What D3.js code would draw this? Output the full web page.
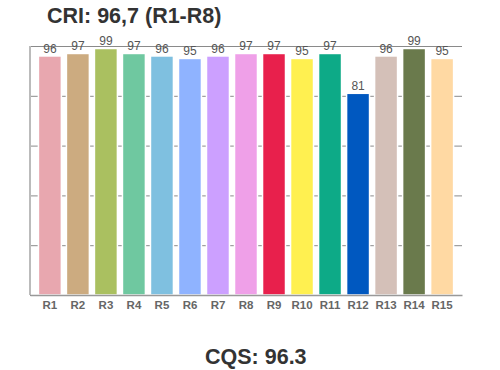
<!DOCTYPE html>
<html>
<head>
<meta charset="utf-8">
<script src="https://cdn.jsdelivr.net/npm/d3@7"></script>
<style>
    body { margin: 0; background: #fff; }
    svg { display: block; font-family: 'Liberation Sans', Arial, sans-serif; }
</style>
</head>
<body>
<div class="chart"></div>
<script>
// chart data
const samples = ['R1', 'R2', 'R3', 'R4', 'R5', 'R6', 'R7', 'R8', 'R9', 'R10', 'R11', 'R12', 'R13', 'R14', 'R15'];
const values = [96, 97, 99, 97, 96, 95, 96, 97, 97, 95, 97, 81, 96, 99, 95];
const colors = ['#e8a7af', '#ccab80', '#aac060', '#6fc8a0', '#7fc0e0', '#8fb3ff', '#cca0ff', '#efa0e8',
    '#e8204c', '#fff050', '#0daa87', '#0058c0', '#d4c0b8', '#6a7a4c', '#ffd9a3'];
const gridTicks = [0, 20, 40, 60, 80, 100];
const titleText = 'CRI: 96,7 (R1-R8)';
const footerText = 'CQS: 96.3';

const data = samples.map((s, i) => ({ sample: s, value: values[i], color: colors[i] }));

const width = 500;
const height = 370;
const plot = { left: 30, right: 462, top: 46, bottom: 295 };

const xScale = d3.scaleBand()
    .domain(samples)
    .range([plot.left, plot.right])
    .paddingInner(0.18)
    .paddingOuter(0.3);

const yScale = d3.scaleLinear()
    .domain([0, 100])
    .range([plot.bottom, plot.top]);

const svg = d3.select('.chart')
    .append('svg')
    .attr('width', width)
    .attr('height', height);

// gridlines
const yGrid = d3.axisRight(yScale)
    .tickValues(gridTicks)
    .tickSize(plot.right - plot.left)
    .tickFormat('');

svg.append('g')
    .attr('class', 'grid')
    .attr('transform', `translate(${plot.left}, 0)`)
    .call(yGrid)
    .call(g => g.select('.domain').remove())
    .call(g => g.selectAll('line').attr('stroke', '#8a8a8a').attr('stroke-width', 1));

// left axis line
svg.append('line')
    .attr('x1', plot.left).attr('x2', plot.left)
    .attr('y1', yScale(100)).attr('y2', yScale(0))
    .attr('stroke', '#bbb')
    .attr('stroke-width', 2);

// bars
svg.selectAll('.bar')
    .data(data)
    .enter()
    .append('rect')
    .attr('class', 'bar')
    .attr('x', d => xScale(d.sample))
    .attr('y', d => yScale(d.value))
    .attr('width', xScale.bandwidth())
    .attr('height', d => yScale(0) - yScale(d.value))
    .attr('fill', d => d.color)
    .attr('stroke', '#fff')
    .attr('stroke-width', 1.5);

// bottom axis
const xAxis = d3.axisBottom(xScale).tickSize(0).tickSizeOuter(0);

const xAxisDraw = svg.append('g')
    .attr('class', 'x axis')
    .attr('transform', `translate(0, ${plot.bottom})`)
    .call(xAxis);

xAxisDraw.select('.domain')
    .attr('stroke', '#999')
    .attr('stroke-width', 1.5);

xAxisDraw.selectAll('text')
    .attr('dy', '0.98em')
    .attr('font-size', 11.5)
    .attr('font-weight', 'bold')
    .attr('font-family', "'Liberation Sans', Arial, sans-serif")
    .attr('fill', '#666');

// value labels
svg.selectAll('.value-label')
    .data(data)
    .enter()
    .append('text')
    .attr('class', 'value-label')
    .attr('x', d => xScale(d.sample) + xScale.bandwidth() / 2)
    .attr('y', d => yScale(d.value) - 3)
    .attr('text-anchor', 'middle')
    .attr('font-size', 12)
    .attr('fill', '#555')
    .text(d => d.value);

// title and footer
svg.append('text')
    .attr('x', 47)
    .attr('y', 23)
    .attr('font-size', 21.5)
    .attr('font-weight', 'bold')
    .attr('fill', '#333')
    .text(titleText);

// footer sits low, like the reference, but kept inside the frame
svg.append('text')
    .attr('x', 205)
    .attr('y', 364)
    .attr('font-size', 21.5)
    .attr('font-weight', 'bold')
    .attr('fill', '#333')
    .text(footerText);
</script>
</body>
</html>
